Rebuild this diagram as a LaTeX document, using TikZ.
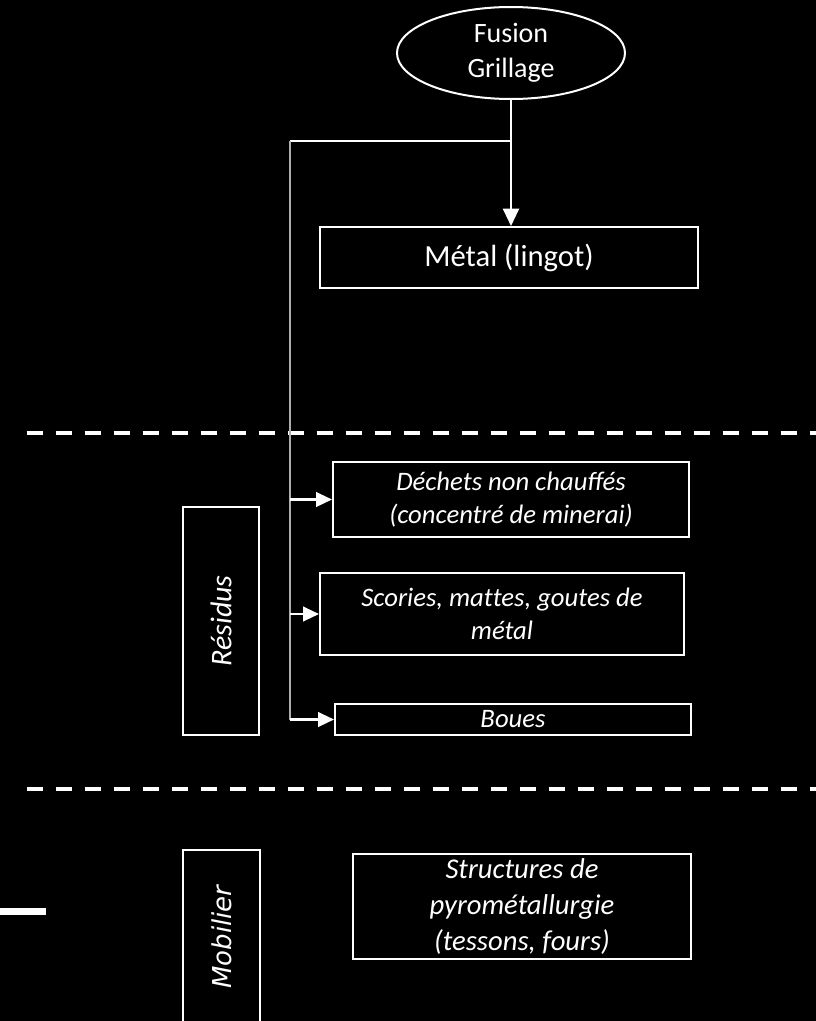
\documentclass[tikz,border=0pt]{standalone}
\usepackage{fontspec}
\setmainfont{Carlito}
\newfontfamily\dejavu{DejaVu Sans}
\usetikzlibrary{arrows.meta,shapes.geometric}
\begin{document}
\begin{tikzpicture}[x=0.75pt,y=-0.75pt,
  box/.style={draw=white, line width=1.5pt, text=white, align=center, inner sep=0pt},
  flow/.style={draw=white, line width=1.6pt, -{Triangle[length=12pt,width=11pt]}},
  stemflow/.style={flow, -{Triangle[length=13pt,width=12pt]}},
  trunkline/.style={draw=white!68!black, line width=1.2pt},
  sepline/.style={draw=white, line width=3pt, dash pattern=on 12.5pt off 9.25pt},
  small/.style={font=\fontsize{20}{24.75}\selectfont\itshape}]
  % page and background
  \fill[black] (0,0) rectangle (816,1021);
  \useasboundingbox (0,0) rectangle (816,1021);
  \clip (0,0) rectangle (816,1021);

  % process and product
  \node[box, ellipse, minimum width=171pt, minimum height=69pt,
        font=\fontsize{21}{26.5}\selectfont] (fus) at (511,53) {Fusion\\Grillage};
  \node[box, minimum width=283.5pt, minimum height=45.75pt,
        font=\fontsize{23}{28}\selectfont] (metal) at (509,257.5) {Métal (lingot)};

  % residues
  \node[box, small, minimum width=267pt, minimum height=56.25pt] (dech) at (511,499.5)
        {Déchets non chauffés\\(concentré de minerai)};
  \node[box, small, minimum width=273pt, minimum height=61.5pt] (scor) at (502,614)
        {Scories, mat\kern0pt tes, goutes de\\métal};
  \node[box, font=\fontsize{20}{24}\selectfont\itshape, minimum width=267pt,
        minimum height=23.25pt] (boues) at (513,719.5) {Boues};
  \node[box, rotate=90, minimum width=171pt, minimum height=57pt,
        font=\fontsize{22.5}{27}\selectfont\itshape] (res) at (221,621) {Résidus};

  % finds
  \node[box, minimum width=253.5pt, minimum height=78.75pt,
        font=\fontsize{21.5}{27}\selectfont\itshape] (struct) at (522,906.5)
        {Structures de\\pyrométallurgie\\(tessons, fours)};
  \node[box, rotate=90, minimum width=130.5pt, minimum height=57.75pt,
        font=\dejavu\itshape\fontsize{19.5}{23}\selectfont] (mob) at (221.5,937) {Mobilier};

  % section separators
  \draw[sepline] (26.7,432.7) -- (816,432.7);
  \draw[sepline] (26.7,789) -- (816,789);
  \fill[white] (0,908) rectangle (46,915);

  % connectors
  \coordinate (trunk) at (290,141);
  \draw[stemflow] (fus.south) -- (fus.south |- metal.north);
  \draw[draw=white, line width=1.2pt] (fus.south |- trunk) -- (trunk);
  \draw[trunkline] (trunk) -- (trunk |- boues.west);
  \draw[flow] (trunk |- dech.west) -- (dech.west);
  \draw[flow] (trunk |- scor.west) -- (scor.west);
  \draw[flow] (trunk |- boues.west) -- (boues.west);
\end{tikzpicture}
\end{document}
